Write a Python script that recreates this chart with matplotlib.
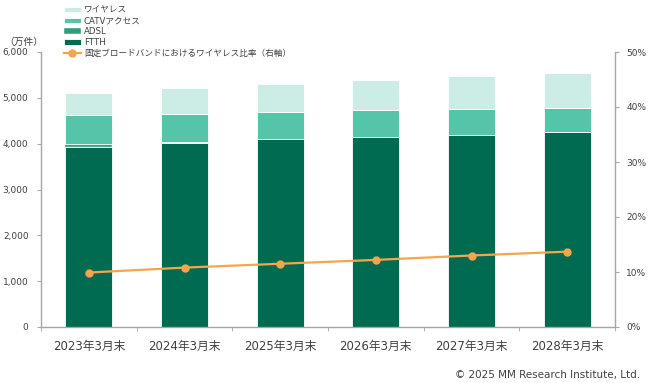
import matplotlib
matplotlib.use("Agg")
import matplotlib.pyplot as plt
import numpy as np

categories = ["2023年3月末", "2024年3月末", "2025年3月末", "2026年3月末", "2027年3月末", "2028年3月末"]
ftth = [3930, 4020, 4095, 4153, 4197, 4248]
adsl = [60, 20, 5, 3, 2, 2]
catv = [630, 615, 598, 579, 565, 536]
wireless = [480, 560, 604, 655, 713, 749]
ratio = [9.9, 10.8, 11.5, 12.2, 13.0, 13.7]

yticks_left = [0, 1000, 2000, 3000, 4000, 5000, 6000]
yticks_right = [0, 10, 20, 30, 40, 50]

plt.rcParams['font.family'] = ['DejaVu Sans', 'Noto Sans CJK JP']

c_ftth = "#006B50"
c_adsl = "#2E9E7C"
c_catv = "#55C4A8"
c_wire = "#CCEDE5"
c_line = "#F7A54A"
gray = "#A6A6A6"
txt = "#404040"

fig = plt.figure(figsize=(6.65, 3.83), dpi=100)
ax = fig.add_axes([41/665, 56/383, (615-41)/665, (327-52)/383])
x = np.arange(len(categories))
w = 0.49
b1 = np.array(ftth)
b2 = b1 + np.array(adsl)
b3 = b2 + np.array(catv)
h_ftth = ax.bar(x, ftth, w, color=c_ftth, edgecolor="white", linewidth=0.6, label="FTTH")
h_adsl = ax.bar(x, adsl, w, bottom=b1, color=c_adsl, edgecolor="white", linewidth=0.3, label="ADSL")
h_catv = ax.bar(x, catv, w, bottom=b2, color=c_catv, edgecolor="white", linewidth=0.6, label="CATVアクセス")
h_wire = ax.bar(x, wireless, w, bottom=b3, color=c_wire, edgecolor="white", linewidth=0.6, label="ワイヤレス")

ax.set_xlim(-0.5, len(categories) - 0.5)
ax.set_ylim(0, 6000)
ax.set_yticks(yticks_left)
ax.set_yticklabels([f"{v:,}" for v in yticks_left])
ax.set_xticks(x)
ax.set_xticklabels(categories, fontsize=8.5, color=txt)
ax.set_xticks(np.arange(-0.5, len(categories)), minor=True)
ax.tick_params(axis='x', which='major', length=0, pad=9)
ax.tick_params(axis='x', which='minor', length=3, color=gray, direction='out')
ax.tick_params(axis='y', length=3, color=gray, labelsize=6.5, labelcolor=txt, pad=6)
for s in ['top', 'right']:
    ax.spines[s].set_visible(False)
for s in ['left', 'bottom']:
    ax.spines[s].set_color(gray)
    ax.spines[s].set_linewidth(1.0)

ax2 = ax.twinx()
h_line, = ax2.plot(x, ratio, color=c_line, marker='o', markersize=5, linewidth=1.6,
                   label="固定ブロードバンドにおけるワイヤレス比率（右軸）")
ax2.set_ylim(0, 50)
ax2.set_yticks(yticks_right)
ax2.set_yticklabels([f"{v}%" for v in yticks_right])
ax2.tick_params(axis='y', length=3, color=gray, labelsize=6.5, labelcolor=txt, pad=5)
for s in ['top', 'left', 'bottom']:
    ax2.spines[s].set_visible(False)
ax2.spines['right'].set_color(gray)
ax2.spines['right'].set_linewidth(1.0)

fig.text(4/665, 1 - 42/383, "（万件）", fontsize=7, color=txt, va='center', ha='left')
fig.text(640/665, 1 - 375/383, "© 2025 MM Research Institute, Ltd.", fontsize=7.5, color=txt, ha='right', va='center')

leg = fig.legend([h_wire, h_catv, h_adsl, h_ftth, h_line],
                 ["ワイヤレス", "CATVアクセス", "ADSL", "FTTH", "固定ブロードバンドにおけるワイヤレス比率（右軸）"],
                 loc='upper left', bbox_to_anchor=(62/665, 1 - 4/383), frameon=False,
                 fontsize=6.2, handlelength=2.0, handleheight=0.6, labelspacing=0.2,
                 handletextpad=0.35, borderaxespad=0, borderpad=0.2)
for t in leg.get_texts():
    t.set_color(txt)

fig.savefig("out.png", dpi=100)
